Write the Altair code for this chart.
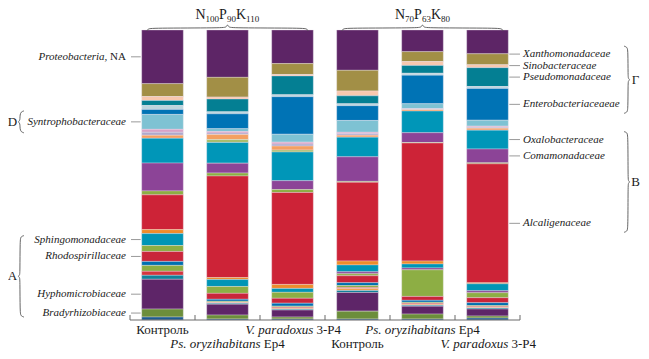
import altair as alt
import pandas as pd

# ---------------- data ----------------
samples = ["c100", "p100", "v100", "c70", "p70", "v70"]
sample_italic = ["", "Ps. oryzihabitans", "V. paradoxus", "", "Ps. oryzihabitans", "V. paradoxus"]
sample_roman = ["Контроль", "Ep4", "3-P4", "Контроль", "Ep4", "3-P4"]
sample_row = [0, 1, 0, 1, 0, 1]

group_parts = [["N", "100", "P", "90", "K", "110"], ["N", "70", "P", "63", "K", "80"]]
group_members = [[0, 1, 2], [3, 4, 5]]

taxa = ["Proteobacteria NA", "Xanthomonadaceae", "Sinobacteraceae", "Pseudomonadaceae",
        "other g1", "Enterobacteriaceae", "Syntrophobacteraceae", "other d1", "other d2",
        "other d3", "other d4", "Oxalobacteraceae", "Comamonadaceae", "other b1",
        "Alcaligenaceae", "other a1", "Sphingomonadaceae", "other a2", "other a3",
        "Rhodospirillaceae", "other a4", "other a5", "other a6", "other a7", "other a8",
        "Hyphomicrobiaceae", "Bradyrhizobiaceae", "other a9"]
taxa_colors = ["#5D2566", "#A28F46", "#F8C8AE", "#047F93", "#BCD6DE", "#0073B5", "#7EC2D3",
               "#D8A2C6", "#AFA8CC", "#F4A062", "#A9BD6C", "#0096B8", "#8C4497", "#8DAE44",
               "#CD2337", "#EE8C2B", "#0095B5", "#8C4497", "#8DAE44", "#C9253A", "#0070B0",
               "#8DAE44", "#D4353F", "#F0A050", "#10819A", "#5E2568", "#6C8E3B", "#1D5B8E"]

# relative abundances (normalized per sample)
v_c100 = [54, 13, 4, 5, 4, 5, 15, 3, 3, 3, 0, 25, 28, 4, 35, 4, 12, 0, 6, 10, 4, 6, 4, 0, 4, 30, 8, 3]
v_p100 = [48, 20, 2, 13, 2, 15, 3, 1.5, 1.5, 5, 3, 21, 10, 3, 103, 2, 7, 0, 7, 6, 2, 1, 0.5, 0.5, 1, 11, 4, 1]
v_v100 = [34, 11, 1.5, 19, 2, 38, 8, 2, 2, 4, 2, 29, 9, 3, 93, 4, 4, 0, 6, 5, 3, 1, 1, 1, 1, 7, 2, 1]
v_c70 = [41, 21, 5, 8, 2, 15, 12, 1.5, 1.5, 2, 0, 20, 25, 1, 80, 4, 7, 2, 2, 7, 3, 2, 1, 2, 2, 19, 8, 1]
v_p70 = [22, 10, 4, 8, 2, 29, 5, 0.5, 0.5, 1.5, 0, 22, 10, 0.5, 120, 3, 4, 2, 27, 4, 2, 1, 1, 1, 1, 8, 5, 1]
v_v70 = [24, 11, 3, 19, 2, 32, 6, 1, 1, 2, 0, 19, 14, 1, 120, 1, 7, 2, 5, 5, 3, 1, 1, 0.5, 1, 7, 2, 2]
values = [v_c100, v_p100, v_v100, v_c70, v_p70, v_v70]

left_labels = [("Proteobacteria,", "NA", "Proteobacteria NA"),
               ("Syntrophobacteraceae", "", "Syntrophobacteraceae"),
               ("Sphingomonadaceae", "", "Sphingomonadaceae"),
               ("Rhodospirillaceae", "", "Rhodospirillaceae"),
               ("Hyphomicrobiaceae", "", "Hyphomicrobiaceae"),
               ("Bradyrhizobiaceae", "", "Bradyrhizobiaceae")]
right_labels = [("Xanthomonadaceae", "Xanthomonadaceae"),
                ("Sinobacteraceae", "Sinobacteraceae"),
                ("Pseudomonadaceae", "Pseudomonadaceae"),
                ("Enterobacteriaceaeae", "Enterobacteriaceae"),
                ("Oxalobacteraceae", "Oxalobacteraceae"),
                ("Comamonadaceae", "Comamonadaceae"),
                ("Alcaligenaceae", "Alcaligenaceae")]
left_groups = [("D", "Syntrophobacteraceae", "Syntrophobacteraceae", 11, 11),
               ("A", "Sphingomonadaceae", "Bradyrhizobiaceae", 4, 4)]
right_groups = [("Г", "Xanthomonadaceae", "Enterobacteriaceae", 8, 9),
                ("В", "Oxalobacteraceae", "Alcaligenaceae", 8, 9)]

# ---------------- geometry ----------------
W, H = 390, 290
PAD = {"left": 122, "top": 22, "right": 121, "bottom": 31}   # total 633 x 343
N = len(samples)
step = W / N
P_IN, P_OUT = 0.36, 0.18
FONT = "Liberation Serif"
FS_X, FS_TAXA, FS_LET, FS_BIG, FS_SUB = 13, 11, 13, 14, 9
LABEL_GAP = 11.5


def U(px):
    return px / step


def F(px_down):
    return 1 - px_down / H


ROM = {" ": 250, "-": 333, "P": 556, "E": 611, "p": 500, "N": 722, "A": 722, "K": 722, ",": 250}
ITA = {"V": 611, ".": 250, " ": 250, "p": 500, "a": 500, "r": 389, "d": 500, "o": 500, "x": 444,
       "u": 500, "s": 389, "P": 611, "y": 444, "z": 389, "i": 278, "h": 500, "b": 500, "t": 278,
       "n": 500, "e": 444, "c": 444, "l": 278, "m": 722, ",": 250}


def tw(s, table, fs):
    return sum(table.get(ch, 500) for ch in s) * fs / 1000.0


# stacked segments (top of bar = 1)
rows = []
for s, vals in zip(samples, values):
    tot = float(sum(vals))
    c = 0.0
    for t, v in zip(taxa, vals):
        if v <= 0:
            continue
        top = 1 - c / tot
        c += v
        bot = 1 - c / tot
        rows.append(dict(sample=s, taxon=t, top=top, bot=bot, mid=(top + bot) / 2))
seg = pd.DataFrame(rows)


def mid_px(sample, taxon):
    r = seg[(seg["sample"] == sample) & (seg["taxon"] == taxon)]
    return (1 - float(r["mid"].iloc[0])) * H


def repel(pos, gap):
    pos = list(pos)
    for _ in range(len(pos)):
        for i in range(len(pos) - 1, 0, -1):
            if pos[i] - pos[i - 1] < gap:
                pos[i - 1] = pos[i] - gap
    return pos


ys = alt.Scale(domain=[0, 1], nice=False, zero=False)
xq = alt.Scale(domain=[0, N], nice=False, zero=False)

bars = alt.Chart(seg).mark_bar(stroke="#efe6f0", strokeWidth=0.35).encode(
    x=alt.X("sample:N", sort=samples, axis=None,
            scale=alt.Scale(domain=samples, paddingInner=P_IN, paddingOuter=P_OUT)),
    y=alt.Y("top:Q", scale=ys, axis=None),
    y2="bot:Q",
    color=alt.Color("taxon:N", scale=alt.Scale(domain=taxa, range=taxa_colors), legend=None),
)

# axis: baseline and upward ticks at band boundaries
dom = pd.DataFrame([dict(u=0, u2=N, f=0.0)])
ticks = pd.DataFrame([dict(u=i, f=0.0, f2=5 / H) for i in range(N + 1)])
domain_layer = alt.Chart(dom).mark_rule(color="#6b6b6b", strokeWidth=1).encode(
    x=alt.X("u:Q", scale=xq, axis=None), x2="u2:Q", y=alt.Y("f:Q", scale=ys, axis=None))
tick_layer = alt.Chart(ticks).mark_rule(color="#6b6b6b", strokeWidth=1).encode(
    x=alt.X("u:Q", scale=xq, axis=None), y=alt.Y("f:Q", scale=ys, axis=None), y2="f2:Q")

txt = {("italic", "right"): [], ("italic", "left"): [], ("normal", "right"): [],
       ("normal", "left"): [], ("normal", "center"): []}
leaders = []
lines = []

# x labels (two staggered rows)
for i, (it, ro, row) in enumerate(zip(sample_italic, sample_roman, sample_row)):
    cu = i + 0.5
    fy = F(H + 10 + 14 * row)
    if it == "":
        txt[("normal", "center")].append(dict(u=cu, f=fy, t=ro, fs=FS_X))
    else:
        wi = tw(it, ITA, FS_X)
        ws = tw(" ", ROM, FS_X)
        wr = tw(ro, ROM, FS_X)
        total = wi + ws + wr
        split = -total / 2 + wi
        txt[("italic", "right")].append(dict(u=cu + U(split), f=fy, t=it, fs=FS_X))
        txt[("normal", "left")].append(dict(u=cu + U(split + ws), f=fy, t=ro, fs=FS_X))

# group labels with subscripts + horizontal braces
for parts, mem in zip(group_parts, group_members):
    cu = (mem[0] + mem[-1] + 1) / 2.0
    sizes = [FS_BIG if k % 2 == 0 else FS_SUB for k in range(len(parts))]
    widths = [tw(p, ROM, fs) for p, fs in zip(parts, sizes)]
    x = -sum(widths) / 2
    for p, fs, w in zip(parts, sizes, widths):
        fy = F(-15) if fs == FS_BIG else F(-11.5)
        txt[("normal", "left")].append(dict(u=cu + U(x), f=fy, t=p, fs=fs))
        x += w
    left = mem[0] + P_OUT + 0.08
    right = mem[-1] + 1 - P_OUT - 0.08
    bid = "h%d" % mem[0]
    pts = [(left, 1), (left + U(1), -1), (left + U(4), -2), (cu - U(4), -2), (cu - U(1), -3),
           (cu, -6), (cu + U(1), -3), (cu + U(4), -2), (right - U(4), -2), (right - U(1), -1), (right, 1)]
    for k, (u, py) in enumerate(pts):
        lines.append(dict(id=bid, k=k, u=u, f=F(py)))


def vbrace(bid, x0px, top, bot, d, tip=6):
    mid = (top + bot) / 2
    pts = [(0, top), (3, top + 1), (4, top + 4), (4, mid - 3), (4.5, mid - 1), (tip, mid),
           (4.5, mid + 1), (4, mid + 3), (4, bot - 4), (3, bot - 1), (0, bot)]
    for k, (dx, py) in enumerate(pts):
        lines.append(dict(id=bid, k=k, u=U(x0px + d * dx), f=F(py)))


# left labels (anchored on first sample)
bar0_left = P_OUT * step
lpos = dict(zip([l[2] for l in left_labels],
                repel([mid_px(samples[0], l[2]) for l in left_labels], LABEL_GAP)))
for it, ro, tax in left_labels:
    fy = F(lpos[tax])
    xend = -4
    if ro:
        wr = tw(ro, ROM, FS_TAXA)
        ws = tw(" ", ROM, FS_TAXA)
        txt[("normal", "right")].append(dict(u=U(xend), f=fy, t=ro, fs=FS_TAXA))
        txt[("italic", "right")].append(dict(u=U(xend - wr - ws), f=fy, t=it, fs=FS_TAXA))
    else:
        txt[("italic", "right")].append(dict(u=U(xend), f=fy, t=it, fs=FS_TAXA))
    leaders.append(dict(u=U(1), u2=U(bar0_left - 1), f=fy))

# right labels (anchored on last sample)
barN_right = (N - 1 + P_OUT + (1 - P_IN)) * step
rpos = dict(zip([r[1] for r in right_labels],
                repel([mid_px(samples[-1], r[1]) for r in right_labels], LABEL_GAP)))
for it, tax in right_labels:
    fy = F(rpos[tax])
    txt[("italic", "left")].append(dict(u=U(W + 3), f=fy, t=it, fs=FS_TAXA))
    leaders.append(dict(u=U(barN_right + 1), u2=U(W), f=fy))

for letter, a, b, pa, pb in left_groups:
    top, bot = lpos[a] - pa, lpos[b] + pb
    vbrace("l" + letter, -106, top, bot, -1)
    txt[("normal", "center")].append(dict(u=U(-117.5), f=F((top + bot) / 2), t=letter, fs=FS_LET))

for letter, a, b, pa, pb in right_groups:
    top, bot = rpos[a] - pa, rpos[b] + pb
    vbrace("r" + letter, 494, top, bot, 1)
    txt[("normal", "center")].append(dict(u=U(505.5), f=F((top + bot) / 2), t=letter, fs=FS_LET))

leader_layer = alt.Chart(pd.DataFrame(leaders)).mark_rule(color="#9a9a9a", strokeWidth=1).encode(
    x=alt.X("u:Q", scale=xq, axis=None), x2="u2:Q", y=alt.Y("f:Q", scale=ys, axis=None))

brace_layer = alt.Chart(pd.DataFrame(lines)).mark_line(
    color="#555555", strokeWidth=0.9, interpolate="basis").encode(
    x=alt.X("u:Q", scale=xq, axis=None), y=alt.Y("f:Q", scale=ys, axis=None),
    detail="id:N", order="k:Q")

layers = [bars, domain_layer, tick_layer, leader_layer, brace_layer]
for (style, align), recs in txt.items():
    if not recs:
        continue
    layers.append(
        alt.Chart(pd.DataFrame(recs)).mark_text(
            font=FONT, fontStyle=style, align=align, baseline="middle", color="#1a1a1a").encode(
            x=alt.X("u:Q", scale=xq, axis=None),
            y=alt.Y("f:Q", scale=ys, axis=None),
            text="t:N",
            size=alt.Size("fs:Q", scale=None, legend=None),
        )
    )

chart = alt.layer(*layers).resolve_scale(x="independent").properties(
    width=W, height=H,
    autosize=alt.AutoSizeParams(type="none"),
    padding=PAD,
).configure_view(stroke=None)

chart.save("out.html", embed_options={"renderer": "svg", "actions": False})
